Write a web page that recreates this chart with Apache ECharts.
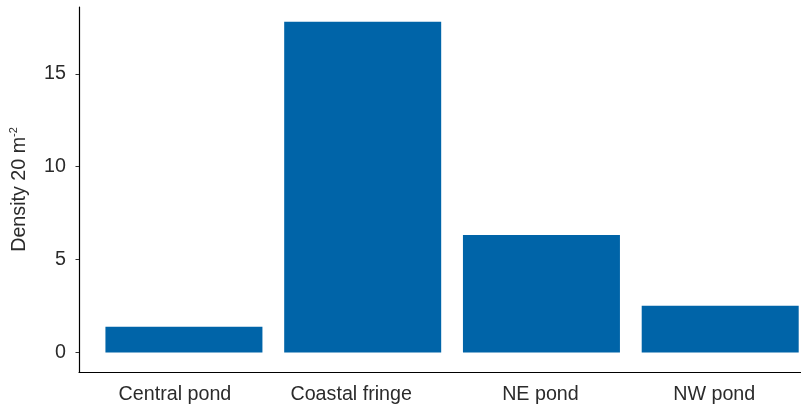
<!DOCTYPE html>
<html>
<head>
<meta charset="utf-8">
<script src="https://cdn.jsdelivr.net/npm/echarts@6/dist/echarts.min.js"></script>
<style>html,body{margin:0;padding:0;background:#fff}#c{width:801px;height:407px}</style>
</head>
<body>
<div id="c"></div>
<script>
const categories = ["Central pond", "Coastal fringe", "NE pond", "NW pond"];
const density = [1.38, 17.81, 6.32, 2.51];
const yTicks = [0, 5, 10, 15];
const yTitle = "Density 20 m";

const chart = echarts.init(document.getElementById('c'), null, {renderer: 'canvas'});
const FONT = 'Liberation Sans';
const FS = 19.7;
const TXT = '#2b2b2b';
const positions = categories.map((c, i) => i + 1);
// horizontal nudges of the category labels (style only)
const labelShift = [18, 23, 2, 12];
const rich = {};
labelShift.forEach((p, i) => {
  rich['l' + i] = {fontFamily: FONT, fontSize: FS, color: TXT, padding: [0, p, 0, 0]};
});
chart.setOption({
  animation: false,
  backgroundColor: '#ffffff',
  grid: {left: 78, top: 7, height: 365, right: 0, containLabel: false},
  xAxis: {
    type: 'value', min: 0.413, max: 4.452,
    axisLine: {show: true, onZero: false, lineStyle: {color: '#000', width: 1.2}},
    axisTick: {show: false},
    splitLine: {show: false},
    axisLabel: {
      customValues: positions,
      formatter: v => {
        const i = Math.round(v) - 1;
        return categories[i] ? '{l' + i + '|' + categories[i] + '}' : '';
      },
      rich: rich,
      color: TXT, fontFamily: FONT, fontSize: FS, margin: 13
    }
  },
  yAxis: {
    type: 'value', min: -1.05, max: 18.6,
    name: '{a|' + yTitle + '}{s|-2}',
    nameLocation: 'middle', nameGap: 47, nameRotate: 90,
    nameTextStyle: {
      fontFamily: FONT, fontSize: FS, color: TXT,
      rich: {
        a: {fontFamily: FONT, fontSize: FS, color: TXT, lineHeight: 24},
        s: {fontFamily: FONT, fontSize: 11, color: TXT, verticalAlign: 'top', lineHeight: 24, padding: [0,0,9,0]}
      }
    },
    axisLine: {show: true, onZero: false, lineStyle: {color: '#000', width: 1.2}},
    axisTick: {show: true, length: 3.5, customValues: yTicks, lineStyle: {color: '#333'}},
    splitLine: {show: false},
    axisLabel: {customValues: yTicks, color: TXT, fontFamily: FONT, fontSize: FS, margin: 13}
  },
  series: [{
    type: 'bar',
    barWidth: 157,
    itemStyle: {color: '#0064a8'},
    data: density.map((v, i) => [positions[i], v])
  }]
});
</script>
</body>
</html>
